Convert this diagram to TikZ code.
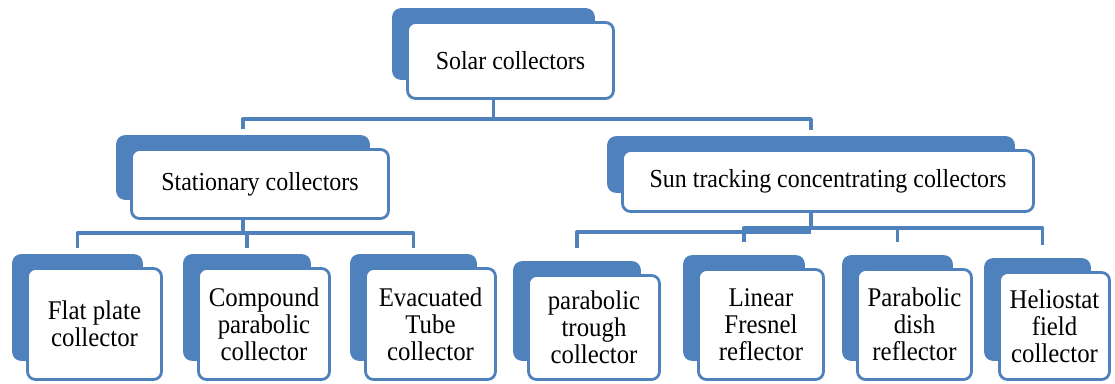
\documentclass[tikz,border=0pt]{standalone}
\usepackage{fontspec}
\setmainfont[FakeStretch=0.92]{Liberation Serif}
\usetikzlibrary{backgrounds}
\definecolor{smblue}{RGB}{79,129,189}
\tikzset{
  frontbox/.style={draw=smblue, line width=2.8pt, fill=white, rounded corners=8pt,
    align=center, inner sep=0pt, font=\fontsize{26}{27}\selectfont},
  leafbox/.style={frontbox, font=\fontsize{27}{27}\selectfont},
  backfill/.style={fill=smblue, rounded corners=9pt},
  conn/.style={draw=smblue, line width=3.3pt, line join=round}
}

\begin{document}
\begin{tikzpicture}[x=1pt,y=-1pt]
      \useasboundingbox (0,0) rectangle (1115,383);
      % white front boxes
      \node[frontbox, minimum width=206pt, minimum height=76pt] (sc) at (510.5,60.5) {Solar collectors};
      \node[frontbox, minimum width=257pt, minimum height=69pt] (st) at (260,184) {Stationary collectors};
      \node[frontbox, minimum width=411pt, minimum height=61pt] (sun) at (828,181) {Sun tracking concentrating collectors};
      \node[leafbox, minimum width=134pt, minimum height=111pt] (b1) at (94.5,324) {Flat plate\\collector};
      \node[leafbox, minimum width=131pt, minimum height=111pt] (b2) at (264,324) {Compound\\parabolic\\collector};
      \node[leafbox, minimum width=130pt, minimum height=111pt] (b3) at (430.5,324) {Evacuated\\Tube\\collector};
      \node[leafbox, minimum width=131pt, minimum height=104pt] (b4) at (594,327.5) {parabolic\\trough\\collector};
      \node[leafbox, minimum width=125pt, minimum height=110pt] (b5) at (761,324.5) {Linear\\Fresnel\\reflector};
      \node[leafbox, minimum width=114pt, minimum height=110pt] (b6) at (914.5,324.5) {Parabolic\\dish\\reflector};
      \node[leafbox, minimum width=110pt, minimum height=107pt] (b7) at (1054.5,326) {Heliostat\\field\\collector};
      % blue shapes behind
      \begin{pgfonlayer}{background}
        \foreach \n in {sc,st,sun,b1,b2,b3,b4,b5,b6,b7}
          \fill[backfill] ([xshift=-14pt,yshift=13pt]\n.north west) rectangle ([xshift=-20pt,yshift=20pt]\n.south east);
      \end{pgfonlayer}
      % drop ends
      \coordinate (d1) at ([xshift=-17pt,yshift=19pt]b1.north);
      \coordinate (d2) at ([xshift=-17pt,yshift=19pt]b2.north);
      \coordinate (d3) at ([xshift=-17pt,yshift=19pt]b3.north);
      \coordinate (d4) at ([xshift=-17pt,yshift=26pt]b4.north);
      \coordinate (d5) at ([xshift=-17pt,yshift=26pt]b5.north);
      \coordinate (d6) at ([xshift=-17pt,yshift=26pt]b6.north);
      \coordinate (d7) at ([xshift=-12pt,yshift=26pt]b7.north);
      % connectors
      \draw[conn] ([xshift=-17pt]sc.south) -- ++(0,19) coordinate (j0);
      \draw[conn] ([xshift=-17pt,yshift=19pt]st.north) |- (j0) -| ([xshift=-17pt,yshift=19pt]sun.north);
      \draw[conn] ([xshift=-17pt]st.south) -- ++(0,13) coordinate (j1);
      \draw[conn] (d1) |- (j1) -| (d3);
      \draw[conn] (d2) |- (j1);
      \draw[conn] ([xshift=-17pt]sun.south) -- ++(0,15) coordinate (j2);
      \draw[conn] (d5) |- (j2) -| (d7);
      \draw[conn] (d6) |- (j2);
      \draw[conn] (d4) |- ([yshift=-4pt]j2);
\end{tikzpicture}
\end{document}
